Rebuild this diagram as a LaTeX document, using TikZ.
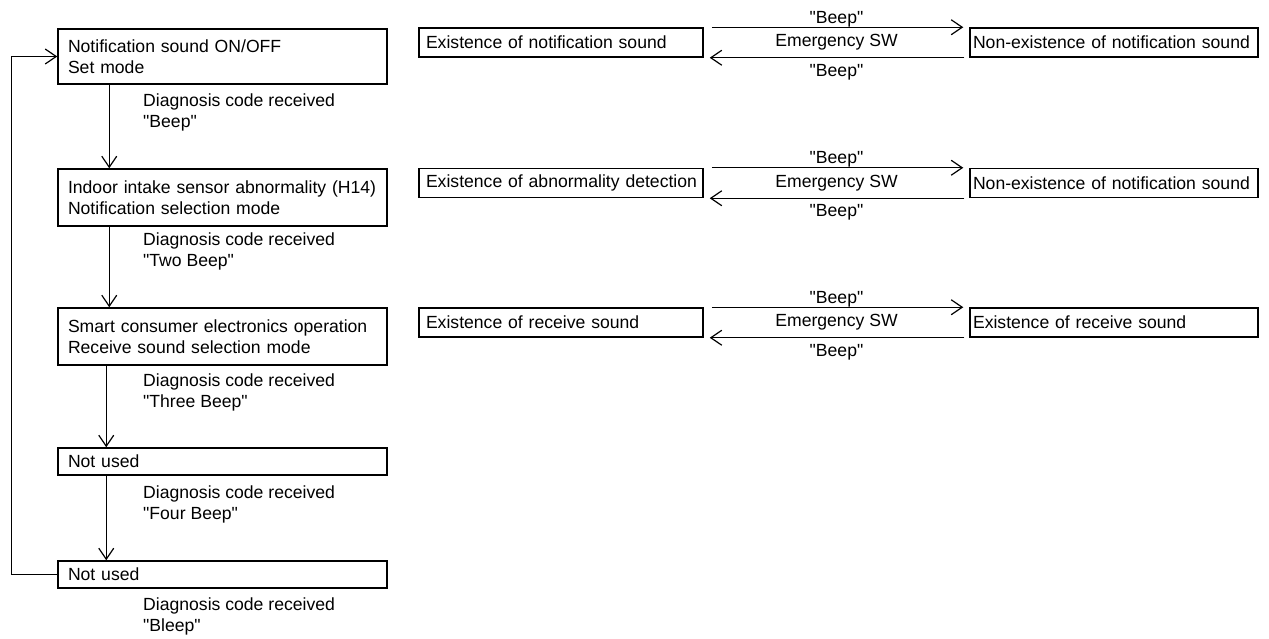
\documentclass[tikz,border=0pt]{standalone}
\usepackage{fontspec}
\setmainfont{Liberation Sans}[Ligatures=TeXOff]
\usetikzlibrary{arrows.meta}
\begin{document}
\begin{tikzpicture}[x=1pt,y=-1pt,
 every node/.style={font=\fontsize{17.6}{21}\selectfont},
 box/.style={draw, line width=1.5pt, inner xsep=8pt, inner ysep=0pt, align=left, text width=313pt},
 sbox/.style={draw, line width=1.5pt, inner xsep=3pt, inner ysep=0pt, align=left, minimum height=29pt},
 lbl/.style={anchor=west, align=left, inner sep=0pt},
 arr/.style={line width=1.2pt, -{Straight Barb[length=11pt,width=15pt,line width=1.2pt]}},
 ln/.style={line width=1.2pt}]
\useasboundingbox (0,0) rectangle (1269,639);

% left column
\node[box, minimum height=55pt] (b1) at (222.5,56.5) {\hspace*{2pt}Notification sound ON/OFF\\\hspace*{2pt}Set mode};
\node[box, minimum height=57pt] (b2) at (222.5,197.5) {\hspace*{2pt}Indoor intake sensor abnormality (H14)\\\hspace*{2pt}Notification selection mode};
\node[box, minimum height=57pt] (b3) at (222.5,336.5) {\hspace*{2pt}Smart consumer electronics operation\\\hspace*{2pt}Receive sound selection mode};
\node[box, minimum height=27pt] (b4) at (222.5,461.5) {\hspace*{2pt}Not used};
\node[box, minimum height=27pt] (b5) at (222.5,574.5) {\hspace*{2pt}Not used};

\node[lbl] (l1) at (143,112) {Diagnosis code received\\"Beep"};
\node[lbl] (l2) at (143,251.5) {Diagnosis code received\\"Two Beep"};
\node[lbl] (l3) at (143,392.5) {Diagnosis code received\\"Three Beep"};
\node[lbl] (l4) at (143,504) {Diagnosis code received\\"Four Beep"};
\node[lbl] (l5) at (143,616.5) {Diagnosis code received\\"Bleep"};

\draw[arr] ([xshift=52pt]b1.south west) -- ([xshift=52pt]b2.north west);
\draw[arr] ([xshift=52pt]b2.south west) -- ([xshift=52pt]b3.north west);
\draw[arr] ([xshift=49pt]b3.south west) -- ([xshift=49pt]b4.north west);
\draw[arr] ([xshift=49pt]b4.south west) -- ([xshift=49pt]b5.north west);
\draw[arr] (b5.west) -| ([xshift=-46pt]b1.west) -- (b1.west);

% right rows
\node[sbox, text width=278pt] (L1) at (561,42.5) {\hspace*{4pt}Existence of notification sound};
\node[sbox, text width=282pt] (R1) at (1114,42.5) {Non-existence of notification sound};
\node[sbox, text width=278pt] (L2) at (561,183) {\hspace*{4pt}Existence of abnormality detection};
\node[sbox, text width=282pt] (R2) at (1114,183) {Non-existence of notification sound};
\node[sbox, text width=278pt] (L3) at (561,322.5) {\hspace*{4pt}Existence of receive sound};
\node[sbox, text width=282pt] (R3) at (1114,322.5) {Existence of receive sound};

\foreach \r/\y in {1/42.5, 2/183, 3/322.5}{
  \draw[arr] ([xshift=8pt]L\r.north east) -- ([xshift=-6pt]R\r.north west);
  \draw[arr] ([xshift=-5pt]R\r.south west) -- ([xshift=6pt]L\r.south east);
  \node (bu\r) at (836.5,\y-23.5) {"Beep"};
  \node (em\r) at (836.5,\y) {Emergency SW};
  \node (bd\r) at (836.5,\y+29.5) {"Beep"};
}
\end{tikzpicture}
\end{document}
